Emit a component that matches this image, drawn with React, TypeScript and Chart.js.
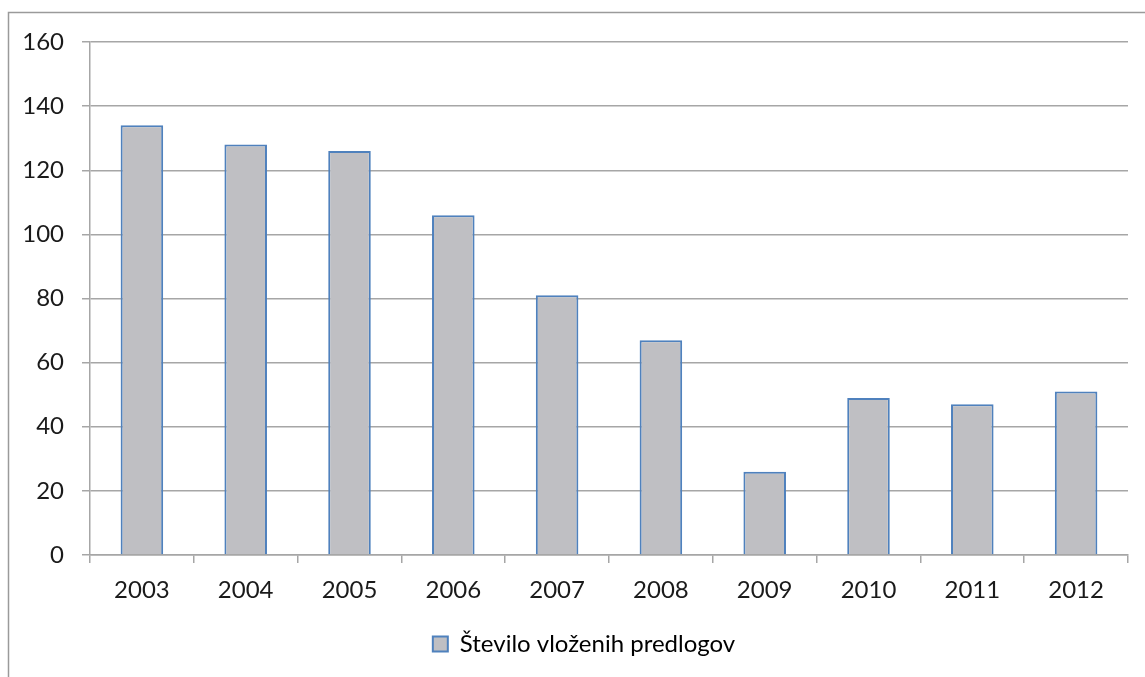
import React, { useEffect, useRef } from "react";
import { Chart, registerables } from "chart.js";

Chart.register(...registerables);

const categories = ["2003", "2004", "2005", "2006", "2007", "2008", "2009", "2010", "2011", "2012"];
const seriesLabel = "Število vloženih predlogov";
const seriesValues = [134, 128, 126, 106, 81, 67, 26, 49, 47, 51];
const yTicks = [0, 20, 40, 60, 80, 100, 120, 140, 160];

const FONT = "Lato, 'Open Sans', sans-serif";
const GRID = "#A6A6A6";

const framePlugin = {
  id: "frame",
  afterLayout(chart: any) {
    if (chart.legend) {
      chart.legend.left += 20;
      chart.legend.right += 20;
    }
  },
  beforeDraw(chart: any) {
    const ctx = chart.ctx;
    ctx.save();
    ctx.strokeStyle = "#9A9A9A";
    ctx.lineWidth = 1.5;
    ctx.beginPath();
    ctx.moveTo(8.5, 677);
    ctx.lineTo(8.5, 12.5);
    ctx.lineTo(1145, 12.5);
    ctx.stroke();
    ctx.restore();
  },
};

export default function App() {
  const ref = useRef<HTMLCanvasElement>(null);
  useEffect(() => {
    if (!ref.current) return;
    const chart = new Chart(ref.current, {
      type: "bar",
      data: {
        labels: categories,
        datasets: [
          {
            label: seriesLabel,
            data: seriesValues,
            backgroundColor: "#BFBFC3",
            borderColor: "#4F81BD",
            borderWidth: 2,
            barPercentage: 0.41,
            categoryPercentage: 1,
          },
        ],
      },
      options: {
        animation: false,
        responsive: false,
        layout: { padding: { left: 0, right: 17, top: 42, bottom: 11 } },
        plugins: {
          tooltip: { enabled: false },
          legend: {
            position: "bottom",
            labels: {
              font: { family: FONT, size: 24 },
              color: "#1A1A1A",
              boxWidth: 15,
              boxHeight: 15,
              padding: 12,
              generateLabels: (chart: any) => [
                {
                  text: seriesLabel,
                  fillStyle: "#BFBFC3",
                  strokeStyle: "#4F81BD",
                  lineWidth: 2,
                  datasetIndex: 0,
                },
              ],
            },
          },
        },
        scales: {
          x: {
            offset: true,
            grid: {
              offset: true,
              drawOnChartArea: false,
              drawTicks: true,
              tickLength: 8,
              color: GRID,
              lineWidth: 1.5,
            },
            border: { display: true, color: GRID, width: 1.5 },
            ticks: {
              font: { family: FONT, size: 24 },
              color: "#1A1A1A",
              padding: 13,
            },
            afterFit: (scale: any) => {
              scale.height = 65;
            },
          },
          y: {
            min: 0,
            max: 160,
            afterBuildTicks: (scale: any) => {
              scale.ticks = yTicks.map((v) => ({ value: v }));
            },
            grid: {
              color: GRID,
              lineWidth: 1.5,
              tickLength: 8,
            },
            border: { display: true, color: GRID, width: 1.5 },
            ticks: {
              font: { family: FONT, size: 24 },
              color: "#1A1A1A",
              padding: 18,
            },
            afterFit: (scale: any) => {
              scale.width = 90;
            },
          },
        },
      },
      plugins: [framePlugin],
    });
    return () => chart.destroy();
  }, []);
  return (
    <div style={{ position: "fixed", left: 0, top: 0, width: 1145, height: 677, background: "#fff" }}>
      <canvas ref={ref} width={1145} height={677} style={{ display: "block" }} />
    </div>
  );
}
